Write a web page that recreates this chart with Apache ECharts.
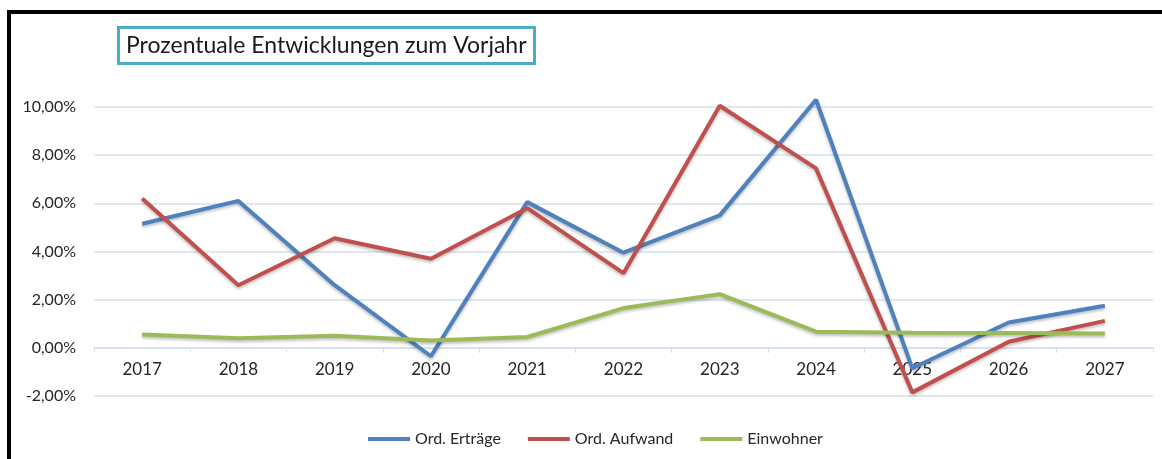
<!DOCTYPE html>
<html>
<head>
    <meta charset="utf-8">
    <title>Prozentuale Entwicklungen zum Vorjahr</title>
    <script src="https://cdn.jsdelivr.net/npm/echarts@6/dist/echarts.min.js"></script>
    <style>
        html, body { margin: 0; padding: 0; background: #fff; }
        #chart { width: 1162px; height: 459px; }
    </style>
</head>
<body>
<div id="chart"></div>
<script>
    // Daten (in Prozent)
    var jahre = ['2017', '2018', '2019', '2020', '2021', '2022', '2023', '2024', '2025', '2026', '2027'];
    var ertraege = [5.15, 6.1, 2.6, -0.35, 6.05, 3.95, 5.5, 10.3, -0.85, 1.05, 1.75];
    var aufwand = [6.2, 2.6, 4.55, 3.7, 5.8, 3.1, 10.05, 7.45, -1.85, 0.25, 1.12];
    var einwohner = [0.55, 0.4, 0.5, 0.3, 0.45, 1.65, 2.23, 0.67, 0.63, 0.62, 0.6];
    var yTicks = [-2, 0, 2, 4, 6, 8, 10];

    var schrift = 'Lato, "Liberation Sans", sans-serif';

    // Plotbereich
    var gridTop = 107, gridBottom = 63, hoehe = 459;
    // Abstand der Nulllinie vom unteren Rand (fuer die Kategorieachse)
    var nullOffset = -(hoehe - gridTop - gridBottom) * (0 - yTicks[0]) / (yTicks[yTicks.length - 1] - yTicks[0]);

    function linie(name, daten, farbe) {
        return {
            name: name,
            type: 'line',
            data: daten,
            showSymbol: false,
            clip: false,
            lineStyle: {
                width: 4,
                color: farbe,
                shadowColor: 'rgba(0,0,0,0.25)',
                shadowBlur: 3,
                shadowOffsetY: 2
            },
            itemStyle: { color: farbe }
        };
    }

    var chart = echarts.init(document.getElementById('chart'));
    chart.setOption({
        animation: false,
        title: {
            text: 'Prozentuale Entwicklungen zum Vorjahr',
            left: 118,
            top: 27,
            padding: [6, 8, 6, 8],
            borderColor: '#4bacc6',
            borderWidth: 3,
            textStyle: {
                fontFamily: schrift,
                fontSize: 23,
                fontWeight: 'normal',
                color: '#1a1a1a',
                lineHeight: 25
            }
        },
        legend: {
            left: 363,
            top: 426,
            icon: 'rect',
            itemWidth: 42,
            itemHeight: 4,
            itemGap: 27,
            textStyle: { fontFamily: schrift, fontSize: 16, color: '#262626' },
            data: ['Ord. Erträge', 'Ord. Aufwand', 'Einwohner']
        },
        grid: { left: 94, right: 9, top: gridTop, bottom: gridBottom },
        xAxis: {
            type: 'category',
            data: jahre,
            boundaryGap: true,
            offset: nullOffset,
            axisLine: { onZero: false, lineStyle: { color: '#d5e0ee', width: 1.5 } },
            axisTick: { show: true, length: 5, lineStyle: { color: '#d5e0ee' } },
            axisLabel: { fontFamily: schrift, fontSize: 17, color: '#262626', margin: 13 }
        },
        yAxis: {
            type: 'value',
            min: yTicks[0],
            max: yTicks[yTicks.length - 1],
            interval: 2,
            axisLine: { show: false },
            axisTick: { show: false },
            splitLine: { lineStyle: { color: '#d5e0ee', width: 1.5 } },
            axisLabel: {
                fontFamily: schrift,
                fontSize: 16,
                color: '#262626',
                margin: 18,
                formatter: function (v) { return v.toFixed(2).replace('.', ',') + '%'; }
            }
        },
        graphic: [
            {
                type: 'polyline',
                shape: { points: [[9, 459], [9, 12], [1162, 12]] },
                style: { stroke: '#000', lineWidth: 4, fill: null }
            }
        ],
        series: [
            linie('Ord. Erträge', ertraege, '#4f81bd'),
            linie('Ord. Aufwand', aufwand, '#c0504d'),
            linie('Einwohner', einwohner, '#9bbb59')
        ]
    });
</script>
</body>
</html>
